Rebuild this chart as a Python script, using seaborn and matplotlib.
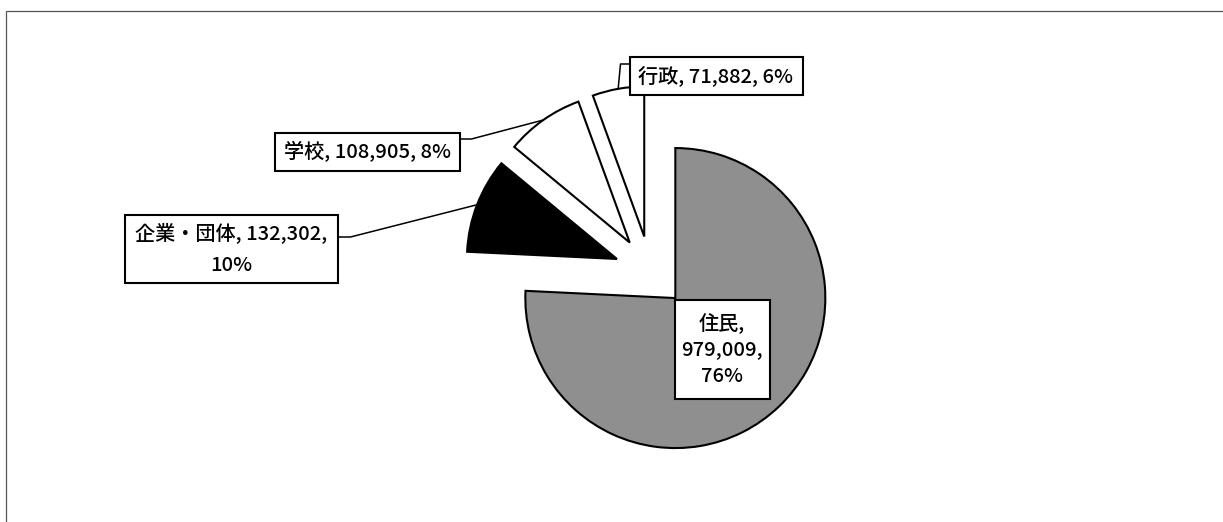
import numpy as np
import matplotlib
matplotlib.use('Agg')
import matplotlib.pyplot as plt
import seaborn as sns
from matplotlib.patches import Rectangle

# data
categories = ['住民', '企業・団体', '学校', '行政']
values = [979009, 132302, 108905, 71882]
percents = ['76%', '10%', '8%', '6%']
colors = ['#8f8f8f', '#000000', '#ffffff', '#ffffff']
explode = [0.24, 0.24, 0.24, 0.24]

sns.set_theme(style='white')
plt.rcParams['font.family'] = ['Noto Sans CJK JP', 'DejaVu Sans']

W, H = 1223, 522
R = 150
fig = plt.figure(figsize=(W / 100, H / 100), dpi=100)
ax = fig.add_axes([0, 0, 1, 1])

# pie explode is in data units, so scale by the radius
wedges, _ = ax.pie(values, colors=colors, explode=[e * R for e in explode], startangle=90,
                   counterclock=False, center=(650.5, H - 272), radius=R,
                   wedgeprops=dict(edgecolor='black', linewidth=1.5))
ax.set_xlim(0, W)
ax.set_ylim(0, H)
ax.set_aspect('equal')
ax.axis('off')


def arc_pt(w, frac=0.5):
    # point on the outer arc of a wedge, frac 0..1 from theta1 to theta2
    t = np.deg2rad(w.theta1 + (w.theta2 - w.theta1) * frac)
    return w.center[0] + w.r * np.cos(t), w.center[1] + w.r * np.sin(t)


def fmt(v):
    return f'{v:,}'


labels = [
    f'{categories[0]},\n{fmt(values[0])},\n{percents[0]}',
    f'{categories[1]}, {fmt(values[1])},\n{percents[1]}',
    f'{categories[2]}, {fmt(values[2])}, {percents[2]}',
    f'{categories[3]}, {fmt(values[3])}, {percents[3]}',
]
# box centre (image px, y down), size, line spacing
boxes = [(722, 349, 95, 99, 1.5), (231, 249, 213, 68, 1.75),
         (367, 152, 185, 38, 1.2), (716, 76, 173, 38, 1.2)]

for lab, (cx, cy, bw, bh, ls) in zip(labels, boxes):
    y = H - cy
    ax.add_patch(Rectangle((cx - bw / 2, y - bh / 2), bw, bh, facecolor='white',
                           edgecolor='black', linewidth=1.5, zorder=5))
    ax.text(cx, y, lab, ha='center', va='center', multialignment='center',
            fontsize=14.5, fontweight='medium', linespacing=ls, zorder=6, color='black')

# leader lines, from box edge to the middle of the slice arc
lead_kw = dict(color='black', linewidth=1.1, zorder=4)
# 企業・団体
px, py = arc_pt(wedges[1])
x0 = boxes[1][0] + boxes[1][2] / 2
y0 = H - 237
ax.plot([x0, x0 + 13, px], [y0, y0, py], **lead_kw)
# 学校
px, py = arc_pt(wedges[2])
x0 = boxes[2][0] + boxes[2][2] / 2
y0 = H - 139
ax.plot([x0, x0 + 12, px], [y0, y0, py], **lead_kw)
# 行政
px, py = arc_pt(wedges[3])
x0 = boxes[3][0] - boxes[3][2] / 2
y0 = H - 64
ax.plot([x0, x0 - 9, px], [y0, y0, py], **lead_kw)

# outer frame (top and left only)
fig.add_artist(plt.Line2D([7 / W, 1], [1 - 11 / H, 1 - 11 / H], color='#555555', linewidth=0.9))
fig.add_artist(plt.Line2D([6 / W, 6 / W], [0, 1 - 11 / H], color='#555555', linewidth=0.9))

fig.savefig('out.png', dpi=100)
